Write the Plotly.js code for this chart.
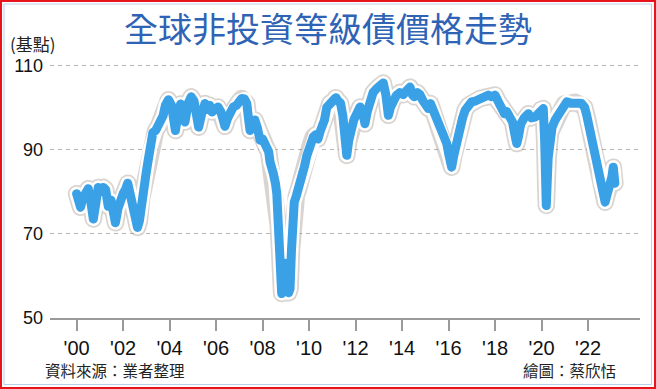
<!DOCTYPE html>
<html>
<head>
<meta charset="utf-8">
<script src="https://cdn.plot.ly/plotly-3.0.1.min.js"></script>
<style>
  html, body { margin: 0; padding: 0; background: #fff; }
  #chart { width: 656px; height: 389px; }
  .js-line { stroke-linejoin: round !important; stroke-linecap: round !important; }
</style>
</head>
<body>
<div id="chart"></div>
<script>
// ---- Data ----
const years = [
  2000.00,2000.08,2000.17,2000.27,2000.40,2000.50,2000.60,2000.72,2000.82,2000.93,
  2001.05,2001.15,2001.25,2001.36,2001.48,2001.58,2001.67,2001.78,2001.88,2002.00,
  2002.10,2002.20,2002.30,2002.42,2002.52,2002.62,2002.70,2002.80,2002.88,2002.98,
  2003.08,2003.18,2003.28,2003.40,2003.52,2003.62,2003.72,2003.82,2003.95,2004.08,
  2004.18,2004.25,2004.35,2004.47,2004.58,2004.66,2004.80,2004.93,2005.05,2005.15,
  2005.25,2005.38,2005.52,2005.62,2005.72,2005.82,2005.95,2006.08,2006.20,2006.30,
  2006.38,2006.50,2006.62,2006.74,2006.88,2007.00,2007.10,2007.22,2007.32,2007.40,
  2007.46,2007.56,2007.67,2007.78,2007.89,2008.00,2008.10,2008.18,2008.26,2008.32,
  2008.40,2008.46,2008.55,2008.61,2008.68,2008.75,2008.82,2008.90,2008.98,2009.05,
  2009.12,2009.18,2009.24,2009.28,2009.36,2009.45,2009.54,2009.62,2009.70,2009.80,
  2009.90,2009.97,2010.08,2010.18,2010.28,2010.38,2010.47,2010.56,2010.66,2010.76,
  2010.90,2011.04,2011.15,2011.25,2011.35,2011.45,2011.55,2011.62,2011.70,2011.80,
  2011.92,2012.05,2012.19,2012.30,2012.40,2012.50,2012.62,2012.75,2012.91,2013.05,
  2013.19,2013.30,2013.41,2013.50,2013.62,2013.75,2013.90,2014.05,2014.20,2014.34,
  2014.44,2014.52,2014.65,2014.77,2014.90,2015.02,2015.13,2015.22,2015.32,2015.42,
  2015.49,2015.60,2015.70,2015.80,2015.92,2016.02,2016.13,2016.22,2016.30,2016.40,
  2016.49,2016.60,2016.71,2016.85,2016.99,2017.15,2017.35,2017.50,2017.71,2017.85,
  2018.00,2018.12,2018.28,2018.40,2018.50,2018.64,2018.75,2018.85,2018.93,2019.00,
  2019.10,2019.25,2019.43,2019.55,2019.72,2019.85,2019.97,2020.07,2020.13,2020.20,
  2020.28,2020.38,2020.45,2020.58,2020.72,2020.85,2020.98,2021.08,2021.25,2021.44,
  2021.60,2021.72,2021.85,2021.94,2022.05,2022.15,2022.25,2022.37,2022.45,2022.51,
  2022.60,2022.68,2022.73,2022.80,2022.88,2022.94,2023.02,2023.08,2023.12,2023.15
];
const prices = [
  79.5,78.5,76.3,78.5,80.0,80.7,78.0,73.5,77.0,81.0,
  80.0,81.0,80.5,76.5,78.0,75.0,72.6,76.0,78.5,79.5,
  80.5,82.0,79.5,76.0,74.0,71.5,73.0,78.5,81.0,84.0,
  87.5,90.5,94.0,94.5,95.5,96.5,98.0,100.5,101.8,100.5,
  96.5,94.5,98.0,100.8,98.0,96.5,101.0,102.5,101.5,98.0,
  95.3,98.5,100.9,99.5,100.5,98.9,99.5,100.1,99.0,97.0,
  95.5,97.5,99.0,100.1,100.5,101.5,102.1,102.0,100.9,97.0,
  94.5,96.5,97.0,95.0,92.2,92.5,91.0,90.2,89.5,87.0,
  86.0,84.3,82.0,79.5,71.6,63.7,55.8,58.0,63.0,58.0,
  56.0,57.0,66.0,76.0,77.5,79.0,80.5,83.0,84.5,86.0,
  88.5,90.0,91.5,93.0,93.5,92.5,94.2,95.5,97.0,100.0,
  101.0,101.5,102.3,101.5,101.0,98.0,93.0,88.6,92.0,95.0,
  97.0,98.5,100.1,99.0,96.1,99.0,102.5,103.5,104.5,105.0,
  105.8,103.0,98.1,100.0,102.0,102.8,103.5,103.0,104.0,104.8,
  103.0,102.5,103.5,103.0,101.5,100.5,99.7,100.9,99.5,98.0,
  96.5,95.5,94.2,93.0,91.4,88.5,85.8,88.5,91.0,93.0,
  94.6,97.5,99.3,100.5,101.3,101.5,102.1,102.3,102.9,102.5,
  102.9,101.5,100.1,98.5,99.0,97.8,96.5,93.5,91.4,93.0,
  96.0,97.5,98.5,97.5,97.7,98.5,99.5,99.7,92.0,76.7,
  88.0,94.0,95.3,97.0,98.5,99.5,100.8,101.3,101.0,101.2,
  101.0,100.9,100.0,98.1,95.5,92.2,91.0,87.4,85.5,82.7,
  81.5,79.0,77.5,79.0,80.5,81.1,83.5,85.8,84.5,82.0
];
const xTickVals = [2000,2002,2004,2006,2008,2010,2012,2014,2016,2018,2020,2022];
const xTickText = ["'00","'02","'04","'06","'08","'10","'12","'14","'16","'18","'20","'22"];
const yTickVals = [50,70,90,110];
const yTickText = ["50","70","90","110"];
const titleText = "全球非投資等級債價格走勢";
const unitText = "(基點)";
const sourceText = "資料來源：業者整理";
const creditText = "繪圖：蔡欣恬";

// ---- Layout geometry ----
const W = 656, H = 389;
const M = {l: 50, r: 16, t: 61, b: 71};
const PW = W - M.l - M.r, PH = H - M.t - M.b;
const px = x => (x - M.l) / PW;          // pixel x -> paper x
const py = y => (H - M.b - y) / PH;      // pixel y -> paper y

const lineBase = {x: years, y: prices, mode: 'lines', type: 'scatter',
  hoverinfo: 'skip', showlegend: false};

const traces = [
  Object.assign({}, lineBase, {line: {color: 'rgba(140,120,110,0.32)', width: 17.5}}),
  Object.assign({}, lineBase, {line: {color: '#ffffff', width: 14}}),
  Object.assign({}, lineBase, {line: {color: '#3AA1E6', width: 9}})
];

const cjk = '"Noto Sans CJK TC", "Noto Sans CJK SC", sans-serif';

const layout = {
  width: W, height: H,
  margin: M,
  paper_bgcolor: '#ffffff', plot_bgcolor: '#ffffff',
  showlegend: false,
  title: {
    text: titleText,
    font: {family: cjk, size: 34, color: '#2F63B5'},
    x: 0.5, xref: 'container', xanchor: 'center',
    y: 1 - 30 / H, yref: 'container', yanchor: 'middle'
  },
  xaxis: {
    range: [1998.856, 2024.23],
    tickmode: 'array', tickvals: xTickVals, ticktext: xTickText,
    ticks: 'outside', ticklen: 11, tickwidth: 2, tickcolor: '#9a9a9a',
    showline: true, linecolor: '#9a9a9a', linewidth: 2,
    showgrid: false, zeroline: false,
    tickfont: {family: '"Liberation Sans Narrow", "Arial Narrow", "Liberation Sans", Arial, sans-serif', size: 20, color: '#111'},
    fixedrange: true
  },
  yaxis: {
    range: [50, 111],
    tickmode: 'array', tickvals: yTickVals, ticktext: yTickText,
    ticks: '', showline: false, zeroline: false,
    showgrid: true, gridcolor: '#b5b5b5', gridwidth: 1, griddash: '4px,4px',
    ticklabelstandoff: 6,
    tickfont: {family: '"Liberation Sans", Arial, sans-serif', size: 18, color: '#111'},
    fixedrange: true
  },
  annotations: [
    {text: unitText, xref: 'paper', yref: 'paper', x: px(8), y: py(43),
     xanchor: 'left', yanchor: 'middle', showarrow: false,
     font: {family: cjk, size: 17, color: '#222'}},
    {text: sourceText, xref: 'paper', yref: 'paper', x: px(43), y: py(370),
     xanchor: 'left', yanchor: 'middle', showarrow: false,
     font: {family: cjk, size: 15.5, color: '#222'}},
    {text: creditText, xref: 'paper', yref: 'paper', x: px(618), y: py(370),
     xanchor: 'right', yanchor: 'middle', showarrow: false,
     font: {family: cjk, size: 15.5, color: '#222'}}
  ],
  shapes: [
    {type: 'rect', xref: 'paper', yref: 'paper', layer: 'above',
     x0: px(1), x1: px(655), y0: py(388), y1: py(1),
     line: {color: '#e8141b', width: 2}, fillcolor: 'rgba(0,0,0,0)'},
    {type: 'rect', xref: 'paper', yref: 'paper', layer: 'above',
     x0: px(4), x1: px(651.5), y0: py(384.5), y1: py(4),
     line: {color: '#b9cfe8', width: 1}, fillcolor: 'rgba(0,0,0,0)'}
  ]
};

Plotly.newPlot('chart', traces, layout, {displayModeBar: false, staticPlot: true});
</script>
</body>
</html>
